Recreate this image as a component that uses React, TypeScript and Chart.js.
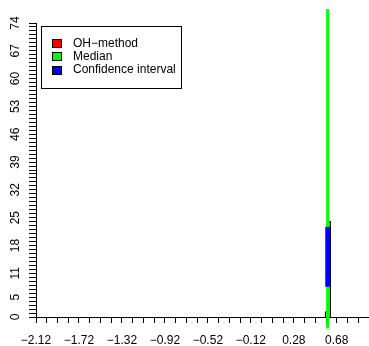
import React, { useEffect, useRef } from 'react';
import { Chart, registerables } from 'chart.js';

Chart.register(...registerables);

// ---- data ----
const xTickValues = [-2.12, -1.72, -1.32, -0.92, -0.52, -0.12, 0.28, 0.68];
const xTickLabels = ['\u22122.12', '\u22121.72', '\u22121.32', '\u22120.92', '\u22120.52', '\u22120.12', '0.28', '0.68'];
const xRange = [-2.12, 0.98];
const xMinorStep = 0.1;

const yTickValues = [0, 5, 11, 18, 25, 32, 39, 46, 53, 60, 67, 74];
const yTickLabels = ['0', '5', '11', '18', '25', '32', '39', '46', '53', '60', '67', '74'];
const yRange = [0, 74];
const yMinorStep = 1;

// histogram outline (OH-method)
const histEdges = [0.574, 0.597, 0.62];
const histCounts = [1.3, 24];

// median line
const medianX = 0.595;
const medianSpan = [-2.9, 77.5];

// confidence interval
const ciX = 0.596;
const ciBounds = [7.6, 22.7];

const legendLabels = ['OH\u2212method', 'Median', 'Confidence interval'];
const legendColors = ['#FF0000', '#00FF00', '#0000FF'];

const FONT = '"Liberation Sans", Arial, Helvetica, sans-serif';

function minorTicks(range: number[], step: number) {
  const out: { value: number }[] = [];
  const n = Math.round((range[1] - range[0]) / step);
  for (let i = 0; i <= n; i++) out.push({ value: Math.round((range[0] + i * step) * 1000) / 1000 });
  return out;
}

function labelFor(values: number[], labels: string[], v: number) {
  for (let i = 0; i < values.length; i++) if (Math.abs(values[i] - v) < 1e-6) return labels[i];
  return '';
}

function histOutline() {
  const pts: { x: number; y: number }[] = [{ x: histEdges[0], y: 0 }];
  for (let i = 0; i < histCounts.length; i++) {
    pts.push({ x: histEdges[i], y: histCounts[i] });
    pts.push({ x: histEdges[i + 1], y: histCounts[i] });
  }
  pts.push({ x: histEdges[histEdges.length - 1], y: 0 });
  return pts;
}

const legendPlugin = {
  id: 'boxLegend',
  afterDraw(chart: any) {
    const ctx = chart.ctx as CanvasRenderingContext2D;
    ctx.save();
    ctx.strokeStyle = '#000';
    ctx.lineWidth = 1;
    ctx.strokeRect(41.5, 26.5, 140, 62);
    ctx.font = `12px ${FONT}`;
    ctx.textBaseline = 'middle';
    ctx.textAlign = 'left';
    for (let i = 0; i < legendLabels.length; i++) {
      const cy = 43 + i * 13.3;
      ctx.fillStyle = legendColors[i];
      ctx.fillRect(52.5, Math.round(cy - 4) + 0.5, 9, 8);
      ctx.strokeRect(52.5, Math.round(cy - 4) + 0.5, 9, 8);
      ctx.fillStyle = '#000';
      ctx.fillText(legendLabels[i], 73, cy + 0.5);
    }
    ctx.restore();
  },
};

export default function App() {
  const ref = useRef<HTMLCanvasElement | null>(null);
  useEffect(() => {
    document.body.style.margin = '0';
    const canvas = ref.current!;
    const chart = new Chart(canvas, {
      type: 'scatter',
      data: {
        datasets: [
          {
            label: 'Confidence interval',
            data: [{ x: ciX, y: ciBounds[0] }, { x: ciX, y: ciBounds[1] }],
            showLine: true,
            borderColor: legendColors[2],
            borderWidth: 5,
            pointRadius: 0,
            borderCapStyle: 'butt',
            order: 0,
            clip: false,
          } as any,
          {
            label: 'Median',
            data: [{ x: medianX, y: medianSpan[0] }, { x: medianX, y: medianSpan[1] }],
            showLine: true,
            borderColor: legendColors[1],
            borderWidth: 3,
            pointRadius: 0,
            borderCapStyle: 'butt',
            order: 1,
            clip: false,
          } as any,
          {
            label: 'OH-method',
            data: histOutline(),
            showLine: true,
            borderColor: '#000000',
            borderWidth: 1,
            pointRadius: 0,
            order: 2,
            clip: false,
          } as any,
        ],
      },
      options: {
        animation: false,
        responsive: false,
        devicePixelRatio: 1,
        layout: { padding: { top: 23, left: 0, right: 0, bottom: 0 } },
        plugins: { legend: { display: false }, tooltip: { enabled: false } },
        scales: {
          x: {
            type: 'linear',
            min: xRange[0],
            max: xRange[1],
            afterBuildTicks: (s: any) => { s.ticks = minorTicks(xRange, xMinorStep); },
            afterFit: (s: any) => { s.height = 29; s.paddingLeft = 0; s.paddingRight = 0; },
            grid: { drawOnChartArea: false, drawTicks: true, tickLength: 6, color: '#000', lineWidth: 1 },
            border: { display: true, color: '#000', width: 1 },
            ticks: {
              autoSkip: false,
              maxRotation: 0,
              minRotation: 0,
              padding: 10,
              color: '#000',
              font: { family: FONT, size: 12 },
              callback: (v: any) => labelFor(xTickValues, xTickLabels, Number(v)),
            },
          },
          y: {
            type: 'linear',
            min: yRange[0],
            max: yRange[1],
            afterBuildTicks: (s: any) => { s.ticks = minorTicks(yRange, yMinorStep); },
            afterFit: (s: any) => { s.width = 36; s.paddingTop = 0; s.paddingBottom = 0; },
            grid: { drawOnChartArea: false, drawTicks: true, tickLength: 7, color: '#000', lineWidth: 1 },
            border: { display: true, color: '#000', width: 1 },
            ticks: {
              autoSkip: false,
              minRotation: 90,
              maxRotation: 90,
              crossAlign: 'center',
              padding: 7,
              color: '#000',
              font: { family: FONT, size: 12 },
              callback: (v: any) => labelFor(yTickValues, yTickLabels, Number(v)),
            },
          },
        },
      },
      plugins: [legendPlugin],
    });
    return () => chart.destroy();
  }, []);
  return (
    <div style={{ width: 369, height: 346, background: '#fff' }}>
      <canvas ref={ref} width={369} height={346} style={{ display: 'block' }} />
    </div>
  );
}
